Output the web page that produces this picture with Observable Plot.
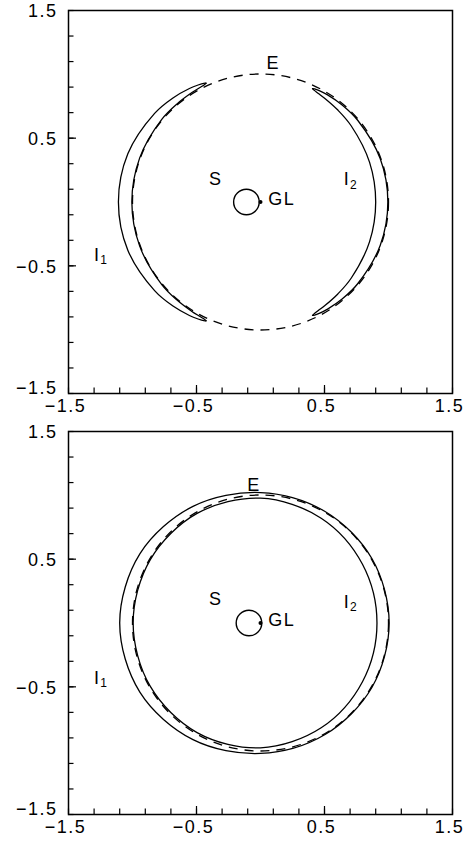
<!DOCTYPE html>
<html>
<head>
<meta charset="utf-8">
<script src="https://cdn.jsdelivr.net/npm/d3@7"></script>
<script src="https://cdn.jsdelivr.net/npm/@observablehq/plot@0.6"></script>
<style>
  html, body { margin: 0; padding: 0; background: #fff; }
  #chart svg { display: block; }
</style>
</head>
<body>
<div id="chart"></div>
<script>
// ---------- axis ticks ----------
const minorTicks = [-1.5, -1.3, -1.1, -0.9, -0.7, -0.5, -0.3, -0.1, 0.1, 0.3, 0.5, 0.7, 0.9, 1.1, 1.3, 1.5];
const majorTicks = [-0.5, 0.5];
const labelTicks = [-1.5, -0.5, 0.5, 1.5];
const yLabelUpper = [-0.5, 0.5, 1.5];
const yLabelLowest = [-1.5];

// ---------- lens geometry ----------
const einsteinRadius = 1.0;          // dashed circle E
const lensX = 0, lensY = 0;          // GL
const sourceX = [-0.11, -0.09];      // source S centre, top / bottom panel
const sourceY = [0, 0];
const sourceRadius = [0.10, 0.10];

// ---------- top panel: crescent images I1 (left) and I2 (right) ----------
// angle (deg) measured from the source axis, radius of each edge
const arcAngles  = [0, 20, 40, 50, 58, 62, 64.5, 65.4];
const topI1Outer = [1.110, 1.103, 1.080, 1.064, 1.048, 1.038, 1.030, 1.023];
const topI1Inner = [1.005, 1.005, 1.007, 1.008, 1.011, 1.014, 1.018, 1.023];
const topI2Inner = [0.900, 0.907, 0.926, 0.940, 0.954, 0.963, 0.971, 0.977];
const topI2Outer = [0.995, 0.995, 0.993, 0.992, 0.989, 0.986, 0.982, 0.977];

// ---------- bottom panel: ring images I1 (outer) and I2 (inner) ----------
// polar angle (deg) from +x axis, radius
const ringAngles = [0, 30, 60, 90, 120, 150, 180, 210, 240, 270, 300, 330];
const bottomI1   = [1.005, 1.006, 1.009, 1.022, 1.055, 1.087, 1.100, 1.087, 1.055, 1.022, 1.009, 1.006];
const bottomI2   = [0.910, 0.920, 0.948, 0.978, 0.991, 0.994, 0.995, 0.994, 0.991, 0.978, 0.948, 0.920];

// ---------- labels ----------
const labelText    = ["E", "S", "GL", "I", "I"];
const labelSub     = ["", "", "", "1", "2"];
const labelAnchor  = ["middle", "middle", "start", "middle", "middle"];
const labelXTop    = [0.10, -0.35, 0.06, -1.275, 0.675];
const labelYTop    = [1.09, 0.18, 0.02, -0.42, 0.175];
const labelXBottom = [-0.05, -0.35, 0.06, -1.275, 0.675];
const labelYBottom = [1.08, 0.19, 0.02, -0.43, 0.16];

// ---------- helpers ----------
const rad = Math.PI / 180;
function crescentEdge(id, angles, radii, side) {
  const pts = [];
  for (let i = angles.length - 1; i >= 0; i--)
    pts.push({id, x: side * radii[i] * Math.cos(angles[i] * rad), y: -radii[i] * Math.sin(angles[i] * rad)});
  for (let i = 1; i < angles.length; i++)
    pts.push({id, x: side * radii[i] * Math.cos(angles[i] * rad), y: radii[i] * Math.sin(angles[i] * rad)});
  return pts;
}
function ringCurve(id, angles, radii) {
  return angles.map((a, i) => ({id, x: radii[i] * Math.cos(a * rad), y: radii[i] * Math.sin(a * rad)}));
}

const W = 466;
const mL = 68, mR = 14;
const pxPerUnit = (W - mL - mR) / 3;
const font = "Liberation Sans, Arial, Helvetica, sans-serif";
const fs = 18;
const fmt = d3.format(".1f");

function panel(k, height, marginTop, marginBottom, curves, closed, lx, ly) {
  const circles = [{x: sourceX[k], y: sourceY[k], r: sourceRadius[k]}];
  const ring = [{x: lensX, y: lensY, r: einsteinRadius}];
  const labels = labelText.map((t, i) => ({t, s: labelSub[i], x: lx[i], y: ly[i], a: labelAnchor[i]}));
  return Plot.plot({
    width: W, height,
    marginLeft: mL, marginRight: mR, marginTop, marginBottom,
    x: {domain: [-1.5, 1.5]},
    y: {domain: [-1.5, 1.5]},
    r: {type: "linear", domain: [0, 1], range: [0, pxPerUnit]},
    style: {fontFamily: font, fontSize: fs + "px", color: "black", background: "white", letterSpacing: "1.5px", overflow: "visible"},
    marks: [
      // images
      Plot.line(curves, {x: "x", y: "y", z: "id", curve: closed ? "catmull-rom-closed" : "catmull-rom",
        stroke: "black", strokeWidth: 1.3}),
      // Einstein ring
      Plot.dot(ring, {x: "x", y: "y", r: "r", stroke: "black", fill: "none", strokeWidth: 1.3, strokeDasharray: "9,7"}),
      // source
      Plot.dot(circles, {x: "x", y: "y", r: "r", stroke: "black", fill: "none", strokeWidth: 1.4}),
      // lens
      Plot.dot([{x: lensX, y: lensY}], {x: "x", y: "y", r: 2, fill: "black"}),
      // labels
      Plot.text(labels.filter(d => d.a === "middle"), {x: "x", y: "y", text: "t", textAnchor: "middle", fontSize: fs, fill: "black"}),
      Plot.text(labels.filter(d => d.a === "start"), {x: "x", y: "y", text: "t", textAnchor: "start", fontSize: fs, fill: "black"}),
      Plot.text(labels.filter(d => d.s), {x: "x", y: "y", text: "s", textAnchor: "start", dx: 3, dy: 5, fontSize: 12, fill: "black"}),
      // inward ticks
      Plot.axisX(minorTicks, {anchor: "bottom", tickSize: -5.5, text: null, label: null, strokeWidth: 1.2}),
      Plot.axisX(majorTicks, {anchor: "bottom", tickSize: -8, text: null, label: null, strokeWidth: 1.2}),
      Plot.axisY(minorTicks, {anchor: "left", tickSize: -5.5, text: null, label: null, strokeWidth: 1.2}),
      Plot.axisY(majorTicks, {anchor: "left", tickSize: -8, text: null, label: null, strokeWidth: 1.2}),
      // tick labels
      Plot.axisX(labelTicks, {anchor: "bottom", tickSize: 0, tickPadding: 6, dx: -3, tickFormat: fmt, label: null, fontSize: fs}),
      Plot.axisY(yLabelUpper, {anchor: "left", tickSize: 0, tickPadding: 11, dy: 1, tickFormat: fmt, label: null, fontSize: fs}),
      Plot.axisY(yLabelLowest, {anchor: "left", tickSize: 0, tickPadding: 11, dy: -5, tickFormat: fmt, label: null, fontSize: fs}),
      Plot.frame({stroke: "black", strokeWidth: 1.5})
    ]
  });
}

const topCurves = [
  ...crescentEdge("I1o", arcAngles, topI1Outer, -1),
  ...crescentEdge("I1i", arcAngles, topI1Inner, -1),
  ...crescentEdge("I2i", arcAngles, topI2Inner, 1),
  ...crescentEdge("I2o", arcAngles, topI2Outer, 1)
];
const bottomCurves = [
  ...ringCurve("I1", ringAngles, bottomI1),
  ...ringCurve("I2", ringAngles, bottomI2)
];

const chart = document.getElementById("chart");
chart.appendChild(panel(0, 418, 10, 25, topCurves, false, labelXTop, labelYTop));
chart.appendChild(panel(1, 430, 13, 34, bottomCurves, true, labelXBottom, labelYBottom));
</script>
</body>
</html>
